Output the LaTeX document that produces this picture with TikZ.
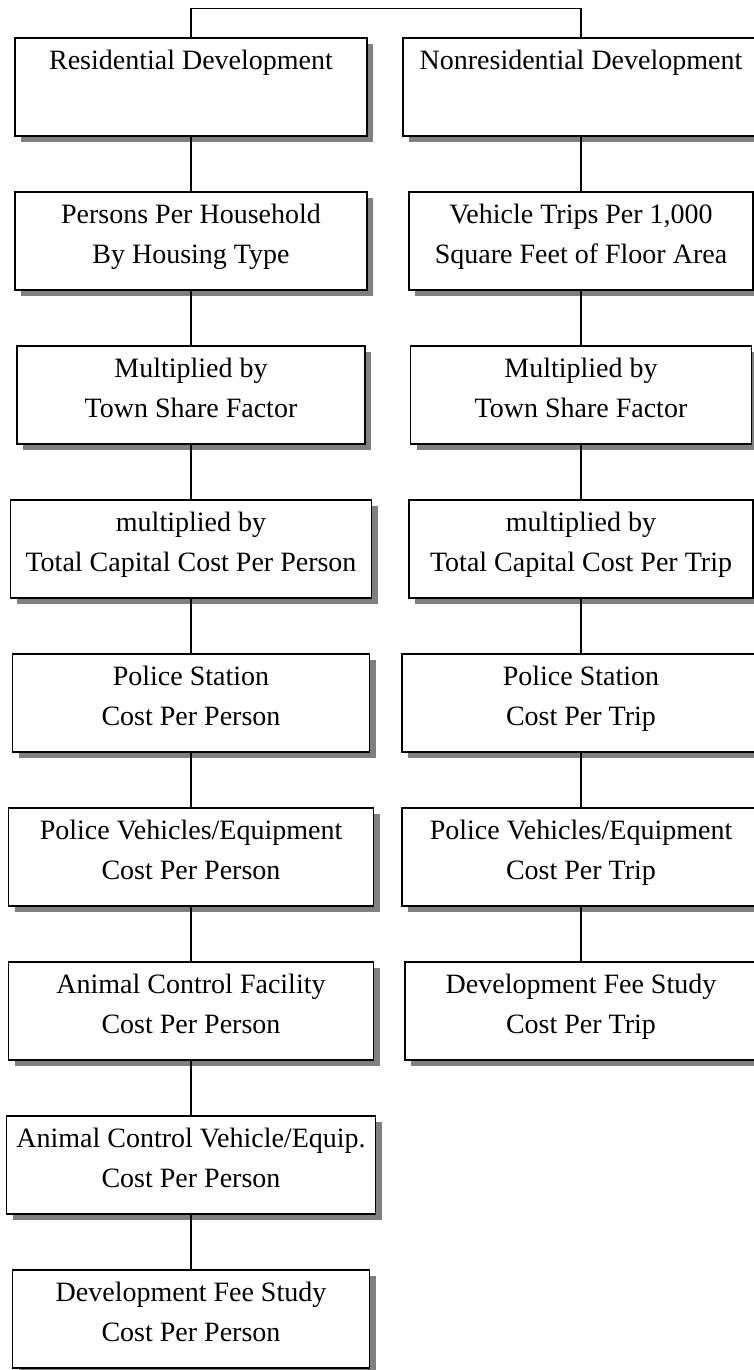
\documentclass[tikz,border=0pt]{standalone}
\usepackage{fontspec}
\setmainfont{Liberation Serif}
\usepackage{tikz}
\usetikzlibrary{shadows}
\newcommand{\rowstep}{154pt}
\newcommand{\widthbox}{352pt}
\newcommand{\heightbox}{98pt}
\tikzset{
    box/.style={draw, rectangle, fill=white, line width=1.6pt, inner sep=0pt,
        minimum width=\widthbox, minimum height=\heightbox, align=center,
        font=\fontsize{28}{40}\selectfont,
        execute at end node={\rule[-14pt]{0pt}{14pt}},
        drop shadow={shadow xshift=6pt, shadow yshift=-6pt, fill=black!50, opacity=1}},
    link/.style={line width=1.3pt}
}

\begin{document}
\begin{tikzpicture}
    \useasboundingbox (0,0) rectangle (754pt,-1370pt);

    % residential column
    \path (191pt,-87pt) node[box] (res) {Residential Development\\\mbox{}}
        ++(270:\rowstep) node[box] (res-pph) {Persons Per Household\\By Housing Type}
        ++(270:\rowstep) node[box, minimum width=348pt] (res-share) {Multiplied by\\Town Share Factor}
        ++(270:\rowstep) node[box, minimum width=361pt] (res-total) {multiplied by\\Total Capital Cost Per Person}
        ++(270:\rowstep) node[box, minimum width=357pt] (res-station) {Police Station\\Cost Per Person}
        ++(270:\rowstep) node[box, minimum width=365pt] (res-vehicles) {Police Vehicles/Equipment\\Cost Per Person}
        ++(270:\rowstep) node[box, minimum width=365pt] (res-animal) {Animal Control Facility\\Cost Per Person}
        ++(270:\rowstep) node[box, minimum width=369pt] (res-animalveh) {Animal Control Vehicle/Equip.\\Cost Per Person}
        ++(270:\rowstep) node[box, minimum width=357pt] (res-study) {Development Fee Study\\Cost Per Person};

    % nonresidential column
    \path (581pt,-87pt) node[box, minimum width=356pt] (non) {Nonresidential Development\\\mbox{}}
        ++(270:\rowstep) node[box, minimum width=344pt] (non-trips) {Vehicle Trips Per 1,000\\Square Feet of Floor Area}
        ++(270:\rowstep) node[box, minimum width=341pt] (non-share) {Multiplied by\\Town Share Factor}
        ++(270:\rowstep) node[box, minimum width=344pt] (non-total) {multiplied by\\Total Capital Cost Per Trip}
        ++(270:\rowstep) node[box, minimum width=358pt] (non-station) {Police Station\\Cost Per Trip}
        ++(270:\rowstep) node[box, minimum width=358pt] (non-vehicles) {Police Vehicles/Equipment\\Cost Per Trip}
        ++(270:\rowstep) node[box, minimum width=352pt] (non-study) {Development Fee Study\\Cost Per Trip};

    \draw[link] (res.north) -- ++(90:29pt) -| (non.north);
    \draw[link] (res) -- (res-pph) (res-pph) -- (res-share) (res-share) -- (res-total)
        (res-total) -- (res-station) (res-station) -- (res-vehicles)
        (res-vehicles) -- (res-animal) (res-animal) -- (res-animalveh)
        (res-animalveh) -- (res-study);
    \draw[link] (non) -- (non-trips) (non-trips) -- (non-share) (non-share) -- (non-total)
        (non-total) -- (non-station) (non-station) -- (non-vehicles)
        (non-vehicles) -- (non-study);
\end{tikzpicture}
\end{document}
